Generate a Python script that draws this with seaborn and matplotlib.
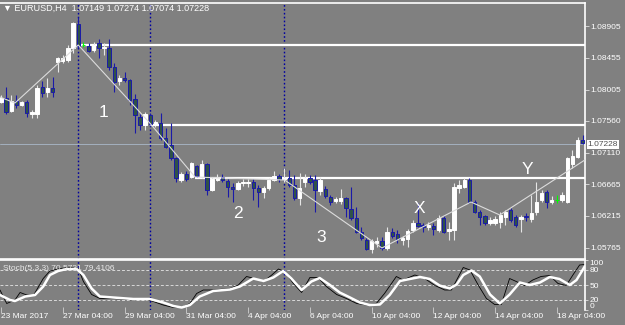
import numpy as np
import pandas as pd
import matplotlib.pyplot as plt
import seaborn as sns

# EURUSD H4 bars, bar 0 = 23 Mar 2017 08:00
opens = [1.07828, 1.07885, 1.07701, 1.07843, 1.07786, 1.07828, 1.07658, 1.07658, 1.08041, 1.07970,
         1.08027, 1.08395, 1.08409, 1.08423, 1.08593, 1.08933, 1.08636, 1.08622, 1.08565, 1.08664,
         1.08593, 1.08593, 1.08324, 1.08126, 1.08168, 1.08140, 1.07871, 1.07616, 1.07503, 1.07644,
         1.07503, 1.07531, 1.07319, 1.07219, 1.07035, 1.06724, 1.06809, 1.06766, 1.06922, 1.06766,
         1.06950, 1.06582, 1.06724, 1.06766, 1.06709, 1.06625, 1.06596, 1.06681, 1.06681, 1.06695,
         1.06610, 1.06554, 1.06610, 1.06724, 1.06780, 1.06738, 1.06752, 1.06653, 1.06469, 1.06695,
         1.06752, 1.06724, 1.06568, 1.06596, 1.06483, 1.06426, 1.06426, 1.06469, 1.06313, 1.06185,
         1.05987, 1.05874, 1.05746, 1.05831, 1.05860, 1.05761, 1.05987, 1.05959, 1.05874, 1.05888,
         1.06016, 1.06115, 1.06086, 1.06058, 1.06072, 1.06016, 1.06185, 1.06001, 1.06016, 1.06610,
         1.06625, 1.06724, 1.06412, 1.06270, 1.06214, 1.06115, 1.06115, 1.06129, 1.06200, 1.06299,
         1.06200, 1.06171, 1.06214, 1.06171, 1.06270, 1.06440, 1.06554, 1.06412, 1.06440, 1.06440,
         1.06412, 1.06950, 1.07049, 1.07290]
highs = [1.07928, 1.08041, 1.07928, 1.07928, 1.07843, 1.07857, 1.07715, 1.08069, 1.08126, 1.08168,
         1.08182, 1.08466, 1.08494, 1.08636, 1.08961, 1.09032, 1.08678, 1.08664, 1.08678, 1.08721,
         1.08664, 1.08721, 1.08381, 1.08211, 1.08253, 1.08154, 1.07942, 1.07658, 1.07687, 1.07673,
         1.07573, 1.07673, 1.07460, 1.07531, 1.07049, 1.06837, 1.06851, 1.06979, 1.06936, 1.07007,
         1.06964, 1.06766, 1.06809, 1.06809, 1.06738, 1.06681, 1.06709, 1.06738, 1.06738, 1.06738,
         1.06653, 1.06639, 1.06752, 1.06851, 1.06809, 1.06894, 1.06865, 1.06794, 1.06823, 1.06809,
         1.06794, 1.06794, 1.06766, 1.06639, 1.06511, 1.06483, 1.06596, 1.06483, 1.06625, 1.06341,
         1.06058, 1.05902, 1.05888, 1.05916, 1.05916, 1.06058, 1.06044, 1.06016, 1.05931, 1.06030,
         1.06157, 1.06398, 1.06115, 1.06129, 1.06115, 1.06228, 1.06214, 1.06129, 1.06681, 1.06724,
         1.06752, 1.06752, 1.06440, 1.06299, 1.06228, 1.06200, 1.06214, 1.06270, 1.06299, 1.06327,
         1.06228, 1.06228, 1.06256, 1.06511, 1.06695, 1.06582, 1.06582, 1.06497, 1.06511, 1.06554,
         1.07049, 1.07149, 1.07333, 1.07361]
lows = [1.07814, 1.07658, 1.07687, 1.07743, 1.07772, 1.07616, 1.07602, 1.07602, 1.07899, 1.07899,
        1.07899, 1.08253, 1.08381, 1.08395, 1.08522, 1.08593, 1.08607, 1.08537, 1.08537, 1.08452,
        1.08494, 1.08282, 1.07970, 1.08069, 1.08112, 1.07786, 1.07389, 1.07432, 1.07432, 1.07503,
        1.07474, 1.07290, 1.07177, 1.07007, 1.06695, 1.06695, 1.06709, 1.06752, 1.06766, 1.06752,
        1.06511, 1.06568, 1.06709, 1.06695, 1.06483, 1.06412, 1.06582, 1.06639, 1.06625, 1.06440,
        1.06341, 1.06469, 1.06582, 1.06709, 1.06695, 1.06695, 1.06625, 1.06440, 1.06370, 1.06625,
        1.06667, 1.06270, 1.06511, 1.06469, 1.06370, 1.06398, 1.06384, 1.06200, 1.06157, 1.05973,
        1.05874, 1.05732, 1.05690, 1.05775, 1.05732, 1.05732, 1.05902, 1.05831, 1.05803, 1.05775,
        1.05987, 1.06058, 1.05987, 1.06016, 1.05945, 1.05987, 1.05973, 1.05874, 1.05874, 1.06540,
        1.06610, 1.06398, 1.06256, 1.06086, 1.06086, 1.06086, 1.06086, 1.06044, 1.06086, 1.06129,
        1.06058, 1.05987, 1.06143, 1.06129, 1.06228, 1.06412, 1.06327, 1.06384, 1.06398, 1.06412,
        1.06398, 1.06894, 1.07035, 1.07234]
closes = [1.07885, 1.07687, 1.07843, 1.07786, 1.07828, 1.07673, 1.07687, 1.08027, 1.07956, 1.08027,
          1.07970, 1.08452, 1.08452, 1.08593, 1.08947, 1.08622, 1.08636, 1.08551, 1.08636, 1.08593,
          1.08607, 1.08324, 1.08112, 1.08168, 1.08140, 1.07857, 1.07644, 1.07503, 1.07658, 1.07517,
          1.07545, 1.07319, 1.07191, 1.07035, 1.06752, 1.06809, 1.06738, 1.06964, 1.06780, 1.06950,
          1.06582, 1.06738, 1.06766, 1.06724, 1.06625, 1.06596, 1.06681, 1.06695, 1.06695, 1.06610,
          1.06554, 1.06610, 1.06724, 1.06780, 1.06738, 1.06752, 1.06653, 1.06469, 1.06610, 1.06752,
          1.06695, 1.06582, 1.06724, 1.06497, 1.06412, 1.06455, 1.06469, 1.06327, 1.06185, 1.05987,
          1.05902, 1.05746, 1.05860, 1.05860, 1.05761, 1.05987, 1.05931, 1.05888, 1.05902, 1.06001,
          1.06115, 1.06072, 1.06058, 1.06086, 1.06030, 1.06185, 1.05987, 1.06030, 1.06625, 1.06653,
          1.06724, 1.06412, 1.06270, 1.06200, 1.06115, 1.06157, 1.06171, 1.06228, 1.06270, 1.06157,
          1.06086, 1.06200, 1.06200, 1.06256, 1.06412, 1.06540, 1.06412, 1.06440, 1.06440, 1.06511,
          1.07035, 1.07064, 1.07290, 1.07248]

# Stoch(5,3,3) sub window, read as (bar, value) points
stoch_main_x = [-0.2, 1.1, 2.7, 3.7, 5.0, 6.3, 8.2, 9.5, 11.5, 13.4, 15.0, 16.0, 17.6, 19.2, 21.8,
                25.7, 27.6, 29.6, 31.5, 33.5, 35.1, 36.7, 38.0, 39.3, 41.2, 44.5, 46.1, 47.7, 49.6,
                51.0, 52.6, 53.9, 55.1, 56.8, 58.4, 60.0, 61.6, 63.2, 65.2, 67.1, 69.1, 71.0, 72.9,
                74.5, 76.8, 78.1, 80.4, 82.3, 84.3, 86.2, 87.5, 89.8, 91.1, 92.7, 94.3, 95.9, 97.2,
                98.8, 100.1, 101.7, 103.3, 104.9, 106.6, 108.2, 109.8, 111.1, 112.4, 113.4]
stoch_main_y = [40, 13, 20, 35, 30, 29, 63, 78, 83, 85, 83, 57, 31, 23, 23,
                20, 23, 17, 10, 5, 5, 13, 33, 40, 40, 43, 50, 67, 62,
                57, 70, 82, 77, 53, 35, 65, 65, 47, 31, 23, 13, 10, 13,
                33, 67, 60, 70, 63, 49, 40, 40, 85, 80, 50, 23, 11, 11,
                63, 57, 49, 60, 67, 69, 53, 49, 70, 90, 91]
stoch_signal_x = [-0.2, 1.75, 2.7, 4.7, 6.6, 8.2, 9.5, 11.1, 12.75, 14.7, 16.0, 17.6, 19.2, 21.8,
                  25.7, 28.9, 31.5, 33.5, 35.1, 36.7, 38.6, 41.2, 44.5, 46.4, 49.0, 51.0, 52.9,
                  54.8, 56.4, 58.4, 60.3, 61.9, 63.9, 65.8, 67.8, 69.7, 71.6, 73.6, 75.5, 77.5,
                  79.4, 81.4, 83.3, 85.2, 87.2, 88.5, 89.8, 91.4, 93.0, 95.0, 96.9, 98.8, 100.8,
                  102.7, 104.7, 106.6, 108.5, 110.5, 111.8, 113.4]
stoch_signal_y = [30, 20, 18, 27, 30, 47, 70, 78, 82, 82, 70, 43, 27, 25,
                  22, 22, 15, 8, 5, 10, 27, 38, 41, 47, 63, 58, 65,
                  78, 63, 40, 57, 64, 50, 35, 25, 15, 10, 11, 30, 58,
                  62, 66, 62, 49, 43, 51, 70, 79, 67, 31, 13, 31, 55,
                  50, 55, 66, 62, 50, 60, 87]
stoch_levels = [20, 50, 80]

# hand drawn trend lines and levels
zigzag_x = [-0.2, 2.7, 15.0, 28.9, 37.7, 55.1, 74.0, 91.3, 96.9, 114.0]
zigzag_y = [1.07899, 1.07814, 1.08636, 1.07531, 1.06766, 1.06724, 1.05761, 1.06412, 1.06228, 1.07035]
level_prices = [1.08636, 1.07503, 1.06752]
level_start = [15.0, 28.9, 37.7]
vline_bars = [15, 29, 55]
bid_price = 1.07228

wave_labels = ['1', '2', '3', 'X', 'Y']
wave_x = [20.0, 46.0, 62.1, 81.2, 102.3]
wave_y = [1.07673, 1.06256, 1.05916, 1.06327, 1.06879]

price_ticks = [1.05765, 1.06215, 1.06665, 1.07110, 1.07560, 1.08005, 1.08455, 1.08905]
time_tick_bars = [0, 12, 24, 36, 48, 60, 72, 84, 96, 108]
time_tick_labels = ['23 Mar 2017', '27 Mar 04:00', '29 Mar 04:00', '31 Mar 04:00', '4 Apr 04:00',
                    '6 Apr 04:00', '10 Apr 04:00', '12 Apr 04:00', '14 Apr 04:00', '18 Apr 04:00']

bg = '#808080'
sns.set_theme(style='dark', rc={'axes.facecolor': bg, 'figure.facecolor': bg})
plt.rcParams['font.family'] = ['Liberation Sans', 'DejaVu Sans']

df = pd.DataFrame({'open': opens, 'high': highs, 'low': lows, 'close': closes})
df['bar'] = np.arange(len(df))
df['kind'] = np.where(df['close'] > df['open'], 'bull',
                      np.where(df['close'] < df['open'], 'bear', 'doji'))

face = {'bull': 'white', 'bear': '#2f5248', 'doji': '#00ff00'}
edge = {'bull': 'white', 'bear': '#1a1aa8', 'doji': '#00ff00'}
wick = {'bull': '#e6e6e6', 'bear': '#1a1aa8', 'doji': '#00ff00'}
vline_style = dict(color='#0000a0', ls=(0, (1.2, 1.6)), lw=1.0, zorder=1)

fig = plt.figure(figsize=(6.25, 3.25), dpi=100)
ax = fig.add_axes([0, 1 - 259 / 325, 585 / 625, 256 / 325])
ax2 = fig.add_axes([0, 1 - 310 / 325, 585 / 625, 50 / 325])
xlim = (-0.2, 113.45)

# price window
ax.axhline(bid_price, color='#a9b8c8', lw=0.6, zorder=1)
for b in vline_bars:
	ax.axvline(b, **vline_style)
for p, s in zip(level_prices, level_start):
	ax.hlines(p, s, xlim[1] + 1, color='white', lw=1.6, zorder=2)

ax.vlines(df['bar'], df['low'], df['high'], colors=[wick[k] for k in df['kind']], lw=0.8, zorder=3)
body_h = (df['close'] - df['open']).abs().clip(lower=0.00004)
ax.bar(df['bar'], body_h, bottom=df[['open', 'close']].min(axis=1), width=0.66,
       color=[face[k] for k in df['kind']], edgecolor=[edge[k] for k in df['kind']],
       linewidth=0.7, zorder=4)

sns.lineplot(x=zigzag_x, y=zigzag_y, ax=ax, color='#dcdcdc', lw=0.8, sort=False,
             estimator=None, zorder=5)

for t, x, y in zip(wave_labels, wave_x, wave_y):
	ax.text(x, y, t, color='white', fontsize=12.5, ha='center', va='center', zorder=6)

ax.set_xlim(*xlim)
ax.set_ylim(1.05605, 1.09231)
ax.set_xticks([])
ax.yaxis.tick_right()
ax.set_yticks(price_ticks)
ax.set_yticklabels(['%.5f' % p for p in price_ticks])
ax.tick_params(axis='y', right=True, length=3, width=0.6, color='#e0e0e0', pad=1,
               labelsize=6, labelcolor='white')
ax.set_xlabel('')
ax.set_ylabel('')
for side in ['top', 'right', 'bottom']:
	ax.spines[side].set_visible(True)
	ax.spines[side].set_color('white')
	ax.spines[side].set_linewidth(1.2)
ax.spines['left'].set_visible(False)

ax.annotate('%.5f' % bid_price, xy=(1, bid_price), xycoords=('axes fraction', 'data'),
            xytext=(2, 0), textcoords='offset points', ha='left', va='center',
            fontsize=6, color='#505050',
            bbox=dict(boxstyle='square,pad=0.15', fc='white', ec='none'), annotation_clip=False)

fig.text(3 / 625, 1 - 8 / 325, '\u25bc EURUSD,H4  1.07149 1.07274 1.07074 1.07228',
         color='white', fontsize=6.5, va='center', ha='left')

# stochastic window
for lv in stoch_levels:
	ax2.axhline(lv, color='#d8d8d8', ls=(0, (3, 2)), lw=0.7, zorder=1)
for b in vline_bars:
	ax2.axvline(b, **vline_style)
sns.lineplot(x=stoch_main_x, y=stoch_main_y, ax=ax2, color='black', lw=0.6, sort=False,
             estimator=None, zorder=2)
sns.lineplot(x=stoch_signal_x, y=stoch_signal_y, ax=ax2, color='white', lw=1.8, sort=False,
             estimator=None, zorder=3)
ax2.text(0.005, 0.84, 'Stoch(5,3,3) 70.5731 79.4106', transform=ax2.transAxes,
         color='#e8e8e8', fontsize=6, va='center', ha='left', zorder=4)

ax2.set_xlim(*xlim)
ax2.set_ylim(0, 100)
ax2.yaxis.tick_right()
ax2.set_yticks([0, 20, 50, 80, 100])
ax2.set_yticklabels(['0', '20', '50', '80', '100'])
ax2.tick_params(axis='y', right=True, length=2, width=0.6, color='#e0e0e0', pad=1,
                labelsize=6, labelcolor='white')
ylabs = ax2.get_yticklabels()
ylabs[0].set_va('bottom')
ylabs[-1].set_va('top')
ax2.set_xticks(time_tick_bars)
ax2.set_xticklabels(time_tick_labels, ha='left')
ax2.tick_params(axis='x', bottom=True, direction='inout', length=4, width=0.6,
                color='#d0d0d0', pad=0, labelsize=6, labelcolor='white')
ax2.set_xlabel('')
ax2.set_ylabel('')
for side in ['top', 'right']:
	ax2.spines[side].set_visible(True)
	ax2.spines[side].set_color('white')
	ax2.spines[side].set_linewidth(1.2)
ax2.spines['left'].set_visible(False)
ax2.spines['bottom'].set_visible(False)

fig.savefig('out.png', dpi=100, facecolor=bg)
plt.close()
